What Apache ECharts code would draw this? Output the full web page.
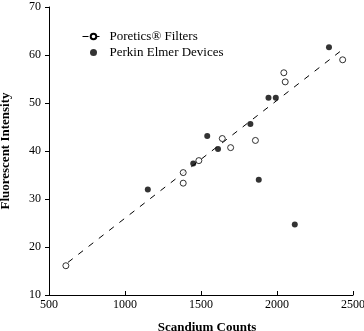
<!DOCTYPE html>
<html><head><meta charset="utf-8">
<script src="https://cdn.jsdelivr.net/npm/echarts@6/dist/echarts.min.js"></script>
<style>html,body{margin:0;padding:0;background:#fff}#c{width:364px;height:331px}</style>
</head><body><div id="c"></div>
<script>
const xTicks = [500, 1000, 1500, 2000, 2500];
const yTicks = [10, 20, 30, 40, 50, 60, 70];
const poreticsX = [611, 1383, 1383, 1486, 1640, 1695, 1858, 2045, 2054, 2432];
const poreticsY = [16.1, 35.5, 33.3, 38.0, 42.6, 40.7, 42.2, 56.3, 54.4, 59.0];
const perkinX = [1150, 1449, 1541, 1612, 1825, 1880, 1944, 1992, 2117, 2342];
const perkinY = [32.0, 37.4, 43.1, 40.4, 45.6, 34.0, 51.1, 51.1, 24.7, 61.6];
const fitX = [625, 2430];
const fitY = [16.8, 61.1];

const zip = (a, b) => a.map((v, i) => [v, b[i]]);
const serif = "'Liberation Serif','Times New Roman',serif";
const chart = echarts.init(document.getElementById('c'), null, {renderer: 'canvas'});
chart.setOption({
  animation: false,
  backgroundColor: '#fff',
  textStyle: {fontFamily: serif, color: '#000'},
  grid: {left: 49, top: 7, width: 304, height: 288, containLabel: false, outerBoundsMode: 'none'},
  legend: {
    orient: 'vertical', left: 82, top: 30, padding: 0,
    itemWidth: 22, itemHeight: 7, itemGap: 3,
    lineStyle: {width: 1, type: [6, 5]},
    textStyle: {fontFamily: serif, fontSize: 13, color: '#000'},
    data: ['Poretics® Filters', 'Perkin Elmer Devices']
  },
  xAxis: {
    type: 'value', min: xTicks[0], max: xTicks[xTicks.length - 1], interval: 500,
    name: 'Scandium Counts', nameLocation: 'middle', nameGap: 26,
    nameTextStyle: {fontFamily: serif, fontSize: 13, fontWeight: 'bold', color: '#000', padding: [0, 0, 0, 12]},
    axisLine: {lineStyle: {color: '#000', width: 1}},
    axisTick: {inside: true, length: 4, lineStyle: {color: '#000'}},
    axisLabel: {fontFamily: serif, fontSize: 12, color: '#000', margin: 4, showMinLabel: true, showMaxLabel: true,
      formatter: v => String(v)},
    splitLine: {show: false}
  },
  yAxis: {
    type: 'value', min: yTicks[0], max: yTicks[yTicks.length - 1], interval: 10,
    name: 'Fluorescent Intensity', nameLocation: 'middle', nameGap: 37,
    nameTextStyle: {fontFamily: serif, fontSize: 13, fontWeight: 'bold', color: '#000'},
    axisLine: {show: true, lineStyle: {color: '#000', width: 1}},
    axisTick: {show: true, inside: false, length: 4, lineStyle: {color: '#000'}},
    axisLabel: {fontFamily: serif, fontSize: 12, color: '#000', margin: 8, formatter: v => String(v)},
    splitLine: {show: false}
  },
  series: [
    {
      name: 'Poretics® Filters', type: 'line', data: zip(fitX, fitY),
      symbol: 'circle', symbolSize: 6, showSymbol: false,
      itemStyle: {color: '#fff', borderColor: '#000', borderWidth: 1},
      lineStyle: {color: '#000', width: 1, type: [6, 7]}, z: 1
    },
    {
      name: 'Poretics points', type: 'scatter', data: zip(poreticsX, poreticsY),
      symbol: 'circle', symbolSize: 6,
      itemStyle: {color: '#fff', borderColor: '#000', borderWidth: 1}, z: 3
    },
    {
      name: 'Perkin Elmer Devices', type: 'scatter', data: zip(perkinX, perkinY),
      symbol: 'circle', symbolSize: 6,
      itemStyle: {color: '#000'}, z: 2
    }
  ]
});
</script></body></html>
